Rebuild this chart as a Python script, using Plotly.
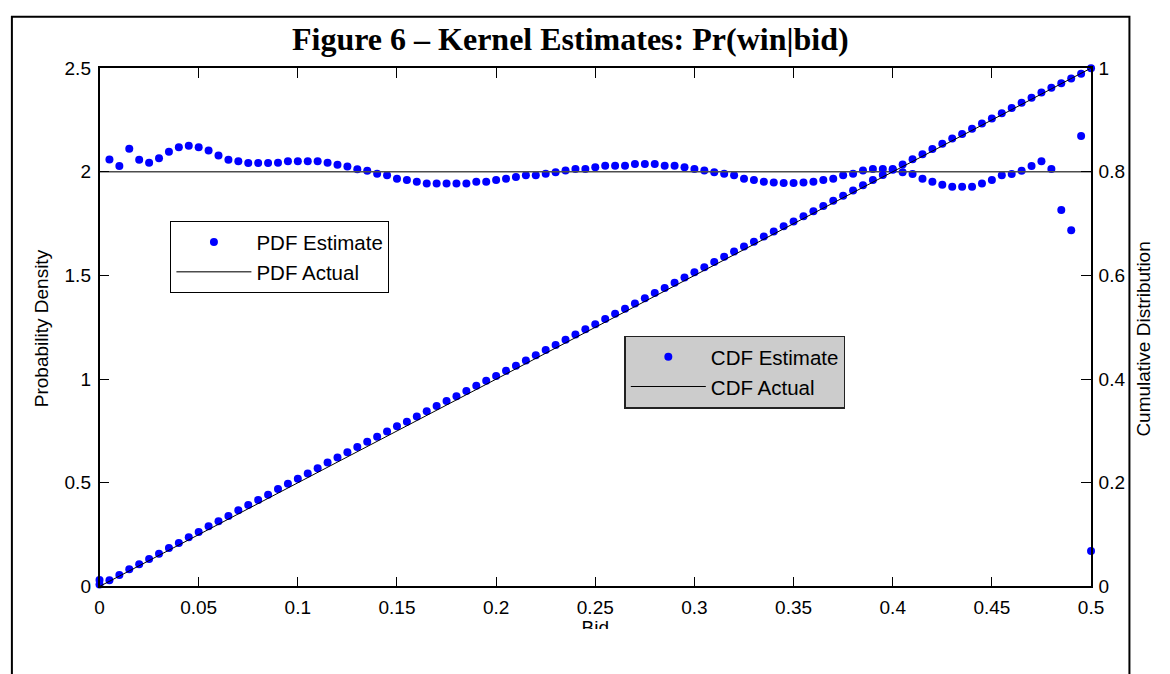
import plotly.graph_objects as go

W, H = 1170, 674

# ---------------- data ----------------
bid = [0.000, 0.005, 0.010, 0.015, 0.020, 0.025, 0.030, 0.035, 0.040, 0.045,
       0.050, 0.055, 0.060, 0.065, 0.070, 0.075, 0.080, 0.085, 0.090, 0.095,
       0.100, 0.105, 0.110, 0.115, 0.120, 0.125, 0.130, 0.135, 0.140, 0.145,
       0.150, 0.155, 0.160, 0.165, 0.170, 0.175, 0.180, 0.185, 0.190, 0.195,
       0.200, 0.205, 0.210, 0.215, 0.220, 0.225, 0.230, 0.235, 0.240, 0.245,
       0.250, 0.255, 0.260, 0.265, 0.270, 0.275, 0.280, 0.285, 0.290, 0.295,
       0.300, 0.305, 0.310, 0.315, 0.320, 0.325, 0.330, 0.335, 0.340, 0.345,
       0.350, 0.355, 0.360, 0.365, 0.370, 0.375, 0.380, 0.385, 0.390, 0.395,
       0.400, 0.405, 0.410, 0.415, 0.420, 0.425, 0.430, 0.435, 0.440, 0.445,
       0.450, 0.455, 0.460, 0.465, 0.470, 0.475, 0.480, 0.485, 0.490, 0.495,
       0.500]

pdf_estimate = [0.031, 2.059, 2.028, 2.111, 2.058, 2.044, 2.065, 2.097, 2.118, 2.126,
                2.118, 2.103, 2.079, 2.058, 2.051, 2.042, 2.042, 2.042, 2.044, 2.051,
                2.051, 2.051, 2.051, 2.044, 2.034, 2.026, 2.012, 2.005, 1.990, 1.983,
                1.967, 1.960, 1.952, 1.944, 1.944, 1.944, 1.944, 1.944, 1.952, 1.952,
                1.960, 1.967, 1.975, 1.983, 1.983, 1.991, 1.998, 2.006, 2.014, 2.014,
                2.022, 2.029, 2.029, 2.029, 2.037, 2.037, 2.037, 2.029, 2.029, 2.022,
                2.014, 2.006, 1.998, 1.991, 1.983, 1.967, 1.960, 1.952, 1.948, 1.946,
                1.946, 1.948, 1.952, 1.960, 1.967, 1.983, 1.991, 2.006, 2.014, 2.014,
                2.014, 1.998, 1.989, 1.967, 1.952, 1.938, 1.928, 1.928, 1.928, 1.944,
                1.960, 1.983, 1.989, 2.005, 2.028, 2.051, 2.013, 1.816, 1.718, 2.173,
                0.171]

cdf_estimate = [0.004, 0.012, 0.022, 0.033, 0.043, 0.053, 0.063, 0.074, 0.084, 0.095,
                0.105, 0.116, 0.126, 0.136, 0.147, 0.157, 0.167, 0.177, 0.188, 0.198,
                0.208, 0.218, 0.228, 0.239, 0.249, 0.259, 0.269, 0.279, 0.289, 0.299,
                0.309, 0.318, 0.328, 0.338, 0.348, 0.358, 0.367, 0.377, 0.387, 0.397,
                0.406, 0.416, 0.426, 0.436, 0.446, 0.456, 0.466, 0.476, 0.486, 0.496,
                0.506, 0.516, 0.526, 0.536, 0.546, 0.556, 0.566, 0.576, 0.586, 0.596,
                0.606, 0.616, 0.626, 0.636, 0.646, 0.656, 0.665, 0.675, 0.685, 0.695,
                0.704, 0.714, 0.724, 0.734, 0.744, 0.754, 0.764, 0.774, 0.784, 0.794,
                0.804, 0.814, 0.824, 0.834, 0.844, 0.854, 0.864, 0.873, 0.883, 0.893,
                0.903, 0.913, 0.923, 0.933, 0.943, 0.953, 0.962, 0.971, 0.980, 0.989,
                1.000]

actual_x = [0.0, 0.5]
pdf_actual = [2.0, 2.0]
cdf_actual = [0.0, 1.0]

x_ticks = [0, 0.05, 0.1, 0.15, 0.2, 0.25, 0.3, 0.35, 0.4, 0.45, 0.5]
x_ticktext = ["0", "0.05", "0.1", "0.15", "0.2", "0.25", "0.3", "0.35", "0.4", "0.45", "0.5"]
y1_ticks = [0, 0.5, 1, 1.5, 2, 2.5]
y1_ticktext = ["0", "0.5", "1", "1.5", "2", "2.5"]
y2_ticks = [0, 0.2, 0.4, 0.6, 0.8, 1]
y2_ticktext = ["0", "0.2", "0.4", "0.6", "0.8", "1"]

title_text = "<b>Figure 6 \u2013 Kernel Estimates: Pr(win|bid)</b>"

# ---------------- styling ----------------
SANS = "Liberation Sans, Arial, Helvetica, sans-serif"
SERIF = "Liberation Serif, Times New Roman, serif"
BLUE = "#0000ff"

# plot-area box in pixels
PL, PR, PT, PB = 96, 1103, 60, 595

def px_x(p):
    return p / W

def px_y(p):
    return 1 - p / H

fig = go.Figure()

fig.add_trace(go.Scatter(
    x=bid, y=pdf_estimate, mode="markers", name="PDF Estimate",
    marker=dict(color=BLUE, size=8), legend="legend", xaxis="x", yaxis="y",
    cliponaxis=False))
fig.add_trace(go.Scatter(
    x=actual_x, y=pdf_actual, mode="lines", name="PDF Actual",
    line=dict(color="#4d4d4d", width=1.5), legend="legend", xaxis="x", yaxis="y"))
fig.add_trace(go.Scatter(
    x=bid, y=cdf_estimate, mode="markers", name="CDF Estimate",
    marker=dict(color=BLUE, size=8), legend="legend2", xaxis="x", yaxis="y2",
    cliponaxis=False))
fig.add_trace(go.Scatter(
    x=actual_x, y=cdf_actual, mode="lines", name="CDF Actual",
    line=dict(color="black", width=1), legend="legend2", xaxis="x", yaxis="y2"))

# clipped x-axis title "Bid" (only the upper part is visible in the reference)
fig.add_trace(go.Scatter(
    x=[599.5 / W], y=[0], mode="text", text=["Bid"], textposition="middle center",
    textfont=dict(family=SANS, size=19, color="black"),
    showlegend=False, hoverinfo="skip", xaxis="x3", yaxis="y3", cliponaxis=True))

axis_common = dict(
    showgrid=False, zeroline=False, showline=True, linecolor="black", linewidth=1.5,
    ticks="inside", ticklen=10, tickwidth=1, tickcolor="black",
    tickfont=dict(family=SANS, size=19, color="black"),
)

fig.update_layout(
    width=W, height=H,
    margin=dict(l=0, r=0, t=0, b=0),
    paper_bgcolor="white", plot_bgcolor="white",
    xaxis=dict(domain=[px_x(PL), px_x(PR)], range=[0, 0.5], tickmode="array",
               tickvals=x_ticks, ticktext=x_ticktext, mirror="ticks",
               anchor="y", ticklabelstandoff=3, **axis_common),
    yaxis=dict(domain=[px_y(PB), px_y(PT)], range=[0, 2.5], tickmode="array",
               tickvals=y1_ticks, ticktext=y1_ticktext, anchor="x",
               ticklabelstandoff=3, **axis_common),
    yaxis2=dict(domain=[px_y(PB), px_y(PT)], range=[0, 1], tickmode="array",
                tickvals=y2_ticks, ticktext=y2_ticktext, overlaying="y", side="right",
                anchor="x", ticklabelstandoff=2, **axis_common),
    xaxis3=dict(domain=[0, 1], range=[0, 1], visible=False, anchor="y3", fixedrange=True),
    yaxis3=dict(domain=[px_y(639), px_y(626)], range=[0, 1], visible=False,
                anchor="x3", fixedrange=True),
    legend=dict(x=px_x(168), y=px_y(218), xanchor="left", yanchor="top",
                bgcolor="white", bordercolor="black", borderwidth=1,
                font=dict(family=SANS, size=20.5, color="black"),
                itemwidth=75, tracegroupgap=0),
    legend2=dict(x=px_x(629), y=px_y(336), xanchor="left", yanchor="top",
                 bgcolor="#cccccc", bordercolor="#222222", borderwidth=1.5,
                 font=dict(family=SANS, size=20.5, color="black"),
                 itemwidth=75, tracegroupgap=0),
    showlegend=True,
)

# title
fig.add_annotation(text=title_text, x=px_x(574), y=px_y(30), xref="paper", yref="paper",
                   xanchor="center", yanchor="middle", showarrow=False,
                   font=dict(family=SERIF, size=32, color="black"))
# y-axis titles
fig.add_annotation(text="Probability Density", x=px_x(37), y=px_y(328),
                   xref="paper", yref="paper", xanchor="center", yanchor="middle",
                   textangle=-90, showarrow=False,
                   font=dict(family=SANS, size=19, color="black"))
fig.add_annotation(text="Cumulative Distribution", x=px_x(1156), y=px_y(340),
                   xref="paper", yref="paper", xanchor="center", yanchor="middle",
                   textangle=-90, showarrow=False,
                   font=dict(family=SANS, size=19, color="black"))

# outer frame of the figure page
fig.add_shape(type="rect", xref="paper", yref="paper",
              x0=px_x(7), x1=px_x(1142), y0=-0.1, y1=px_y(7),
              line=dict(color="black", width=2), fillcolor="rgba(0,0,0,0)",
              layer="below")

fig.write_html("out.html")
